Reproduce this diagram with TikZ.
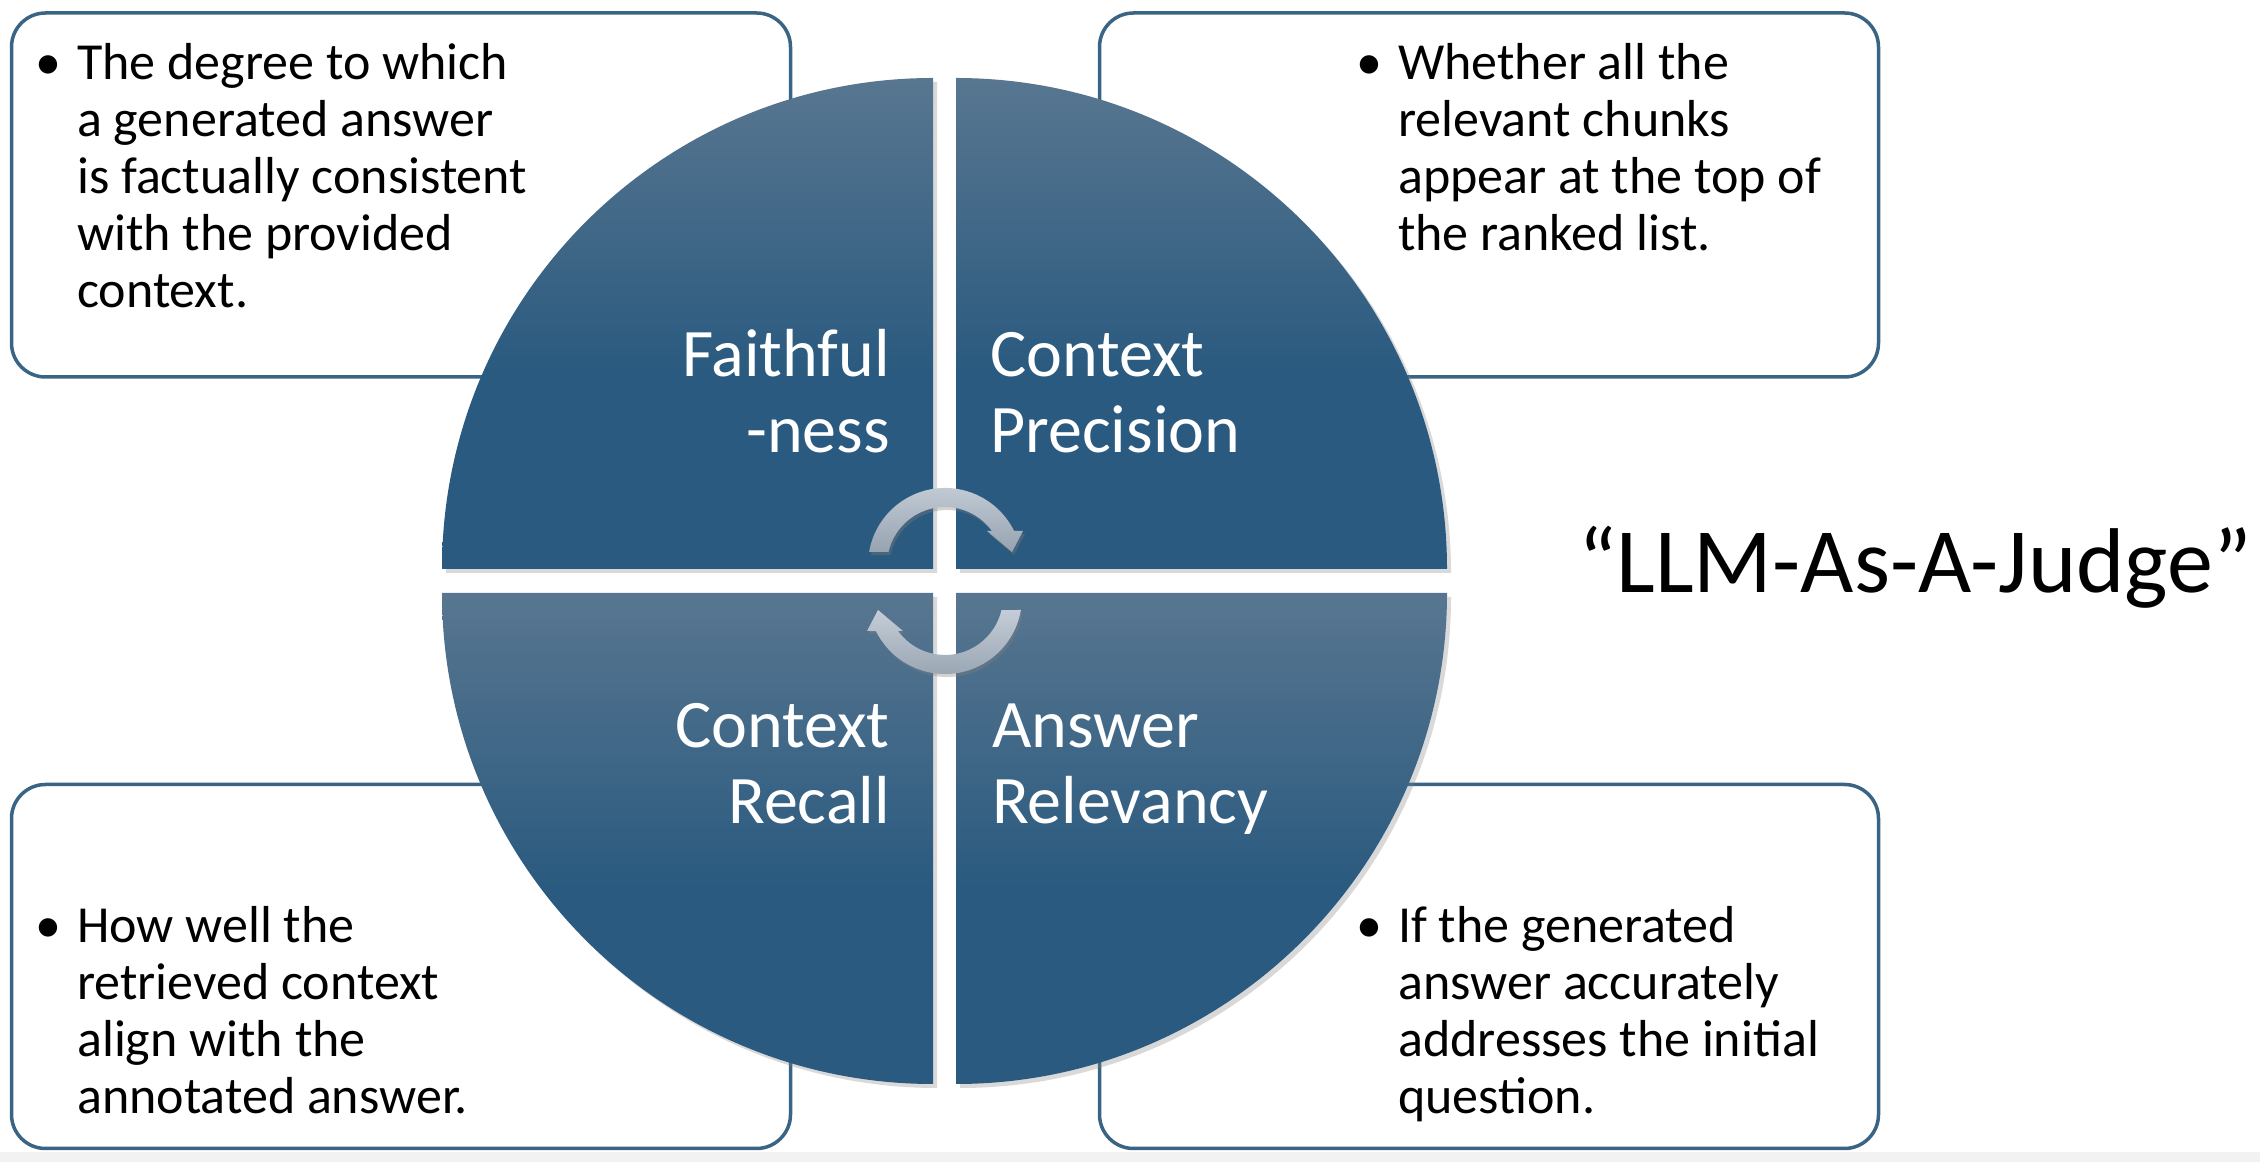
\documentclass[tikz,border=0pt]{standalone}
\usepackage{fontspec}
\setmainfont{Carlito}
\usepackage{xcolor}
\usepackage{tikz}
\usetikzlibrary{shapes,arrows.meta,positioning,calc,shadows}

\definecolor{boxline}{HTML}{3A6484}
\definecolor{wedgetop}{HTML}{587690}
\definecolor{wedgebot}{HTML}{2A5A7F}
\definecolor{cycletop}{HTML}{C4CDD7}
\definecolor{cyclebot}{HTML}{97A3B1}

\pgfdeclareverticalshading{wedgeshade}{100bp}{color(0bp)=(wedgebot); color(45bp)=(wedgebot); color(75bp)=(wedgetop); color(100bp)=(wedgetop)}

\tikzset{
    turnarrow/.pic={
        \path[cyclearrow] (-75.9,13) arc[start angle=170.3, end angle=26.2, radius=77pt]
            -- (78,34) -- (67,13) -- (42,34) -- (47,34)
            arc[start angle=35.9, end angle=167, radius=58pt] -- cycle;
    }
}

\begin{document}
\begin{tikzpicture}[
    x=1pt, y=1pt,
    descbox/.style={rectangle, draw=boxline, fill=white, line width=3.5pt, rounded corners=34pt, minimum width=779pt, minimum height=364pt, inner sep=0pt},
    desctext/.style={anchor=base west, inner sep=0pt, text=black, font=\fontsize{52}{57}\selectfont},
    wedge/.style={shade, shading=wedgeshade, drop shadow={shadow xshift=4pt, shadow yshift=-4pt, opacity=0.3}},
    wedgelabel/.style={inner sep=0pt, text=white, font=\fontsize{68}{76}\selectfont},
    cyclearrow/.style={top color=cycletop, bottom color=cyclebot, drop shadow={shadow xshift=2pt, shadow yshift=-3pt, opacity=0.35}}
]
    \useasboundingbox (0,0) rectangle (2260,1162);
    \fill[black!5] (0,0) rectangle (2260,10);

    % description boxes
    \node [descbox] (tlbox) at (401,967) {};
    \node [descbox] (trbox) at (1489,967) {};
    \node [descbox] (blbox) at (401,195.5) {};
    \node [descbox] (brbox) at (1489,195.5) {};

    % the four quarters
    \path [wedge] (933,593) -- ++(180:491pt) arc[start angle=180, end angle=90, radius=491pt] -- cycle;
    \path [wedge] (956,593) -- ++(90:491pt) arc[start angle=90, end angle=0, radius=491pt] -- cycle;
    \path [wedge] (933,569) -- ++(270:491pt) arc[start angle=270, end angle=180, radius=491pt] -- cycle;
    \path [wedge] (956,569) -- ++(0:491pt) arc[start angle=0, end angle=-90, radius=491pt] -- cycle;

    \pic at (945,597) {turnarrow};
    \pic [rotate=180] at (945,565) {turnarrow};

    \node [wedgelabel, anchor=base east] (faithlabel) at (890,785) {\begin{tabular}[t]{@{}r@{}}Faithful\\-ness\end{tabular}};
    \node [wedgelabel, anchor=base west] (preclabel) at (990,785) {\begin{tabular}[t]{@{}l@{}}Context\\Precision\end{tabular}};
    \node [wedgelabel, anchor=base east] (recalllabel) at (890,414) {\begin{tabular}[t]{@{}r@{}}Context\\Recall\end{tabular}};
    \node [wedgelabel, anchor=base west] (relevlabel) at (992,414) {\begin{tabular}[t]{@{}l@{}}Answer\\Relevancy\end{tabular}};

    \node [desctext] (faithtext) at (35,1082) {\begin{tabular}[t]{@{}l@{}l@{}}\makebox[42pt][l]{\textbullet} & The degree to which\\ & a generated answer\\ & is factually consistent\\ & with the provided\\ & context.\end{tabular}};
    \node [desctext] (prectext) at (1356,1082) {\begin{tabular}[t]{@{}l@{}l@{}}\makebox[42pt][l]{\textbullet} & Whether all the\\ & relevant chunks\\ & appear at the top of\\ & the ranked list.\end{tabular}};
    \node [desctext] (recalltext) at (35,219) {\begin{tabular}[t]{@{}l@{}l@{}}\makebox[42pt][l]{\textbullet} & How well the\\ & retrieved context\\ & align with the\\ & annotated answer.\end{tabular}};
    \node [desctext] (relevtext) at (1356,219) {\begin{tabular}[t]{@{}l@{}l@{}}\makebox[42pt][l]{\textbullet} & If the generated\\ & answer accurately\\ & addresses the initial\\ & question.\end{tabular}};

    \node [anchor=base west, inner sep=0pt, font=\fontsize{92}{110}\selectfont] (judge) at (1578,569) {“LLM-As-A-Judge”};
\end{tikzpicture}
\end{document}
